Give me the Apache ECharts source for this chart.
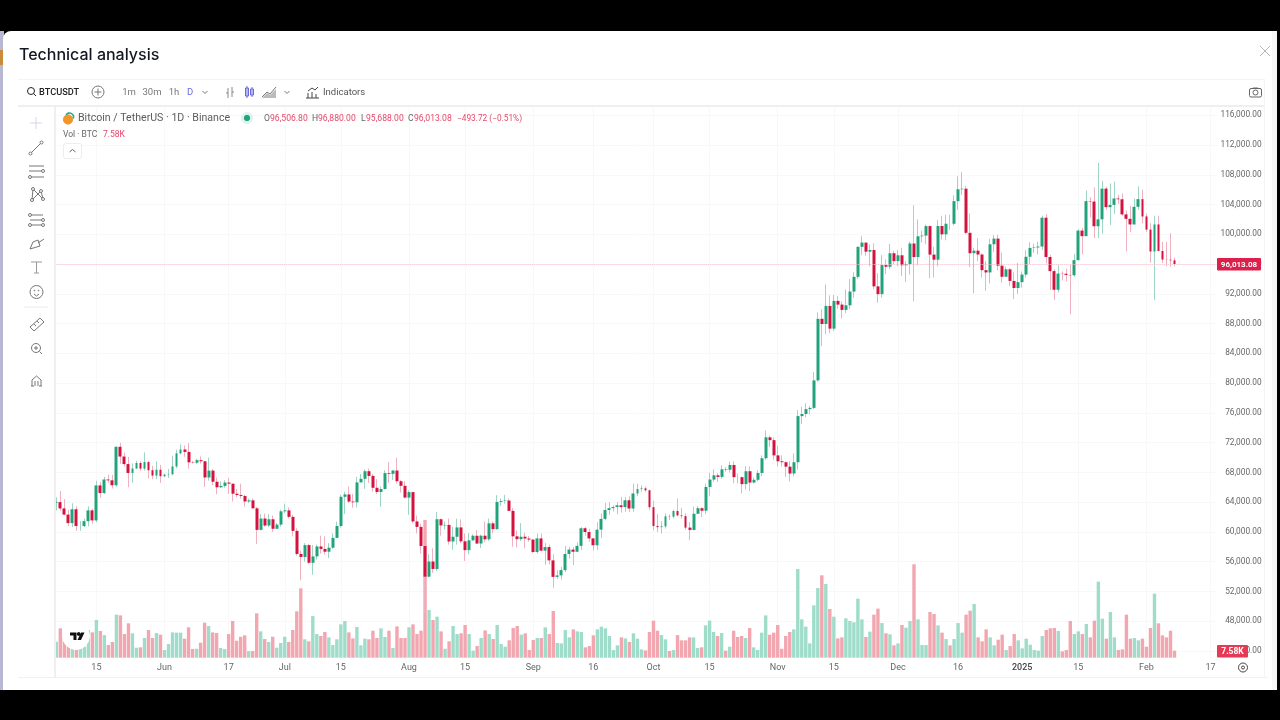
<!DOCTYPE html>
<html>
<head>
<meta charset="utf-8">
<title>Technical analysis</title>
<script src="https://cdn.jsdelivr.net/npm/echarts@6/dist/echarts.min.js"></script>
<style>
  html, body { margin: 0; padding: 0; background: #000; }
  #chart { width: 1280px; height: 720px; }
</style>
</head>
<body>
<div id="chart"></div>
<script>
// BTCUSDT daily, 2024-05-05 to 2025-02-08, one row per month
const opens = [
  63900,64012,63161,62334,61187,63049,60792,60793,61448,62901,61552,66256,65231,67051,66940,66278,71446,70136,69122,67929,68526,69265,68518,69394,68296,67578,68364,
  67491,67706,67751,68804,70567,71082,70757,69355,69310,69648,69500,67321,68243,66747,66006,66191,66639,66490,65140,64960,64828,64096,64245,63180,60277,61806,60864,61706,60427,60986,
  62772,62899,62029,60145,57042,56639,58231,55857,56714,58050,57718,57342,57889,59204,60797,64724,65043,64087,63987,66660,67139,68165,67532,65936,65372,65777,67912,67813,68255,66819,66201,
  64619,65357,61415,60680,58116,53991,56030,55027,61710,60880,60945,58719,59354,60609,58739,57560,58874,59491,58443,59493,59012,61156,60381,64037,64157,64220,62834,59415,59034,59359,59119,
  58973,57301,59132,57487,57970,56180,53962,54160,54869,57042,57631,57339,58132,60498,59993,59132,58213,60309,61759,62947,63201,63348,63578,63339,64262,63152,65173,65769,65858,65603,
  63327,60805,60649,60752,62086,62058,62819,62224,62131,60582,60274,62445,63193,62851,66046,67042,67612,67399,68418,68362,69001,67367,67361,66432,68161,66642,67014,67929,69907,72720,72339,
  70292,69496,69374,68775,67850,69372,75571,75857,76510,76677,80370,88647,87952,90375,87325,91056,90558,89845,90464,92310,94286,98317,98892,97672,97900,93010,91965,95863,95643,97460,
  96407,97185,95840,96000,98768,96945,99740,99831,101109,97276,96593,101125,100000,101424,101420,104463,106058,106133,100204,97461,97805,97291,95186,94881,98663,99429,95791,94299,95300,93738,92792,
  93576,94591,96985,98174,98236,98364,102235,96954,95060,92552,94726,94700,94546,94500,96534,100504,99756,104462,104408,101089,102016,106146,103653,103960,104820,104714,102682,102087,101332,103703,104735,
  102405,100635,97700,101328,97763,96615,96593,96506.8
]
const closes = [
  64012,63161,62334,61187,63049,60792,60793,61448,62901,61552,66256,65231,67051,66940,66278,71446,70136,69122,67929,68526,69265,68518,69394,68296,67578,68364,67491,
  67706,67751,68804,70567,71082,70757,69355,69310,69648,69500,67321,68243,66747,66006,66191,66639,66490,65140,64960,64828,64096,64245,63180,60277,61806,60864,61706,60427,60986,62772,
  62899,62029,60145,57042,56639,58231,55857,56714,58050,57718,57342,57889,59204,60797,64724,65043,64087,63987,66660,67139,68165,67532,65936,65372,65777,67912,67813,68255,66819,66201,64619,
  65357,61415,60680,58116,53991,56030,55027,61710,60880,60945,58719,59354,60609,58739,57560,58874,59491,58443,59493,59012,61156,60381,64037,64157,64220,62834,59415,59034,59359,59119,58973,
  57301,59132,57487,57970,56180,53962,54160,54869,57042,57631,57339,58132,60498,59993,59132,58213,60309,61759,62947,63201,63348,63578,63339,64262,63152,65173,65769,65858,65603,63327,
  60805,60649,60752,62086,62058,62819,62224,62131,60582,60274,62445,63193,62851,66046,67042,67612,67399,68418,68362,69001,67367,67361,66432,68161,66642,67014,67929,69907,72720,72339,70292,
  69496,69374,68775,67850,69372,75571,75857,76510,76677,80370,88647,87952,90375,87325,91056,90558,89845,90464,92310,94286,98317,98892,97672,97900,93010,91965,95863,95643,97460,96407,
  97185,95840,96000,98768,96945,99740,99831,101109,97276,96593,101125,100000,101424,101420,104463,106058,106133,100204,97461,97805,97291,95186,94881,98663,99429,95791,94299,95300,93738,92792,93576,
  94591,96985,98174,98236,98364,102235,96954,95060,92552,94726,94700,94546,94500,96534,100504,99756,104462,104408,101089,102016,106146,103653,103960,104820,104714,102682,102087,101332,103703,104735,102405,
  100635,97700,101328,97763,96615,96593,96506.8,96013.08
]
const highs = [
  64650,65500,64400,63000,63850,63470,61450,61800,63450,63100,66880,66700,67400,67700,67690,71515,71980,70650,70080,69220,69560,69500,70700,69560,68900,69500,69020,
  67850,68450,70250,71050,71760,71630,71950,69560,69850,70150,69560,70000,68450,67300,66800,66950,67300,65700,65730,66480,65000,64500,64500,63350,62400,62480,62370,62200,61200,63000,
  63800,63300,62300,60500,57500,58500,58400,58240,58300,59500,59400,58500,59800,61400,65000,65400,66100,65100,67400,67800,68400,68500,67800,67100,66100,68300,69400,68300,70000,67000,66800,
  65600,65000,62200,61100,58300,57000,57800,62700,61800,61400,61800,60700,61800,61700,59800,59850,59700,60250,59650,61400,61800,61400,64950,64500,65000,64500,63200,60200,61200,59900,59450,
  59050,59800,59800,58500,58300,57000,54850,55300,58100,58000,58000,58600,60650,60650,60400,59200,61300,62500,63900,64000,63550,64000,64700,64700,64800,66500,66500,66250,66100,65700,
  64200,62400,61450,62500,62370,63000,64500,63250,62500,61300,63400,63500,63300,66500,67950,68400,67900,68950,68700,69450,69500,67850,67450,68850,68800,67300,68300,70300,73620,72950,72700,
  71600,70300,69500,69500,70550,76400,76850,77300,76900,81500,89500,89950,93250,91800,91850,91700,91000,92600,94000,94900,98400,99800,98700,98650,98800,94800,97200,96650,98700,97800,
  97900,98200,96400,99000,103900,102000,100500,101300,101200,98300,101900,102500,102650,102650,105250,107800,108350,106500,102800,98200,99500,97400,96400,99400,99900,99950,97550,95650,95450,94900,96150,
  95000,97850,98950,98750,99000,102500,102700,97250,95350,95850,95000,95400,95900,97350,100700,100870,105900,104990,106300,109590,107200,106400,106850,107100,105300,105500,103200,103800,104800,106450,106000,
  102800,101500,102500,102500,99000,99000,100150,96880
]
const lows = [
  62900,62800,62250,60800,60650,60150,60150,60630,60750,61100,61300,64600,65100,66600,65850,66060,69160,68800,66000,66600,68500,68200,68250,67200,67100,67100,66600,
  67380,67250,67600,68550,70400,70100,68500,69200,69100,69200,66050,66900,66300,65050,65900,65950,65100,64100,64650,64500,63400,63900,63150,58400,60200,60700,60650,60000,60400,60700,
  62500,61800,59400,56800,53500,56000,55700,54260,56300,57100,56950,56500,57700,59200,60600,62400,63900,63250,63300,66700,65800,66600,65450,65100,63400,65700,66600,67000,66500,65300,64500,
  62300,61200,59800,57100,49000,53900,54500,54750,59500,60300,58300,57600,58300,58500,56100,57000,58800,58400,57850,58600,58800,59800,60300,63500,63800,62800,58000,57900,58800,57800,58700,
  57200,57100,57400,55600,55650,52500,53700,53600,54600,56400,55550,57300,57600,59500,58700,57500,57600,59200,61600,62300,62750,62400,62600,62700,62700,62700,64800,65400,65400,62900,
  60200,60000,59800,60450,61600,61850,62100,61800,60300,58900,60200,62400,62000,62400,64800,66750,66700,67150,68100,68000,66550,66550,65200,65700,65500,66500,66800,67500,69700,71400,69700,
  68800,68800,67400,66800,67450,68400,74500,75400,75800,76500,80200,85000,86600,86700,87000,90000,88700,89400,89950,91500,94000,97200,97100,95700,92600,90800,91500,94650,95300,96000,
  95700,94400,93600,94600,91000,95900,98900,98700,94100,94200,95700,99300,99200,100600,101200,103300,105300,100000,95600,92100,96400,94200,92400,93400,97600,95150,93500,94400,93050,91300,92000,
  92850,94200,96000,97500,97300,97900,96100,92500,91200,92200,93800,93700,89250,94300,96500,97300,99950,102300,99500,99500,100100,103300,101250,102750,104100,102500,97700,100300,101300,103300,101500,
  100300,96200,91200,97750,96150,95700,95650,95688
]
// volume in thousands of BTC
const volumes = [
  17.3,31.8,23.5,17.3,13.7,11.2,11.9,11.9,30.0,27.4,40.8,28.9,24.5,13.7,17.0,46.6,45.8,25.6,37.2,26.4,10.8,11.2,21.3,30.0,21.3,26.7,24.9,
  8.3,14.8,27.4,27.1,27.1,20.6,32.9,9.4,9.7,16.2,37.9,34.3,27.4,26.7,10.5,9.4,25.6,39.7,18.4,22.7,24.2,7.2,7.2,48.0,28.5,20.2,17.0,22.7,10.8,15.9,
  22.7,17.0,30.0,50.2,75.1,19.9,17.7,45.1,25.6,23.5,27.8,22.0,13.7,19.9,36.1,39.7,27.4,20.9,33.2,13.4,20.6,19.9,29.2,21.3,31.8,22.4,29.2,10.5,33.9,21.3,21.3,
  32.9,36.1,25.6,29.2,149.1,51.6,40.8,44.4,28.5,9.7,17.7,34.3,25.6,26.4,35.4,25.6,7.6,12.6,21.3,29.6,25.6,20.2,35.4,14.8,11.9,18.8,32.1,34.3,24.9,26.4,8.3,19.1,
  21.3,21.3,32.9,25.6,50.5,15.9,15.5,30.0,22.0,30.7,28.5,27.8,11.2,12.6,24.2,30.7,33.6,31.8,23.5,8.3,13.4,22.0,20.9,17.0,26.4,20.6,9.0,7.9,27.8,40.1,
  29.2,24.5,19.9,7.2,8.3,24.5,18.8,18.8,22.0,22.0,10.5,11.2,35.0,40.1,27.8,23.5,26.7,7.6,11.9,29.2,22.4,23.5,21.3,32.1,11.2,8.3,27.1,45.8,24.9,27.1,35.4,
  9.7,23.5,27.8,30.7,96.0,41.5,33.6,15.5,56.7,75.4,89.2,79.8,52.7,44.4,20.9,22.0,42.6,39.7,38.3,63.9,41.5,22.4,28.2,46.6,53.1,37.5,26.4,25.3,13.4,
  15.5,35.4,32.5,39.7,101.1,41.5,13.7,13.7,49.5,47.3,35.0,27.1,20.2,13.4,20.2,37.5,27.1,46.6,50.9,58.1,22.0,17.7,30.7,22.0,13.4,19.5,24.9,8.3,12.6,25.6,18.8,
  10.1,20.6,14.1,8.3,7.6,23.5,30.0,31.8,32.1,28.9,6.9,8.3,39.7,25.6,28.5,25.6,36.5,22.0,40.1,82.3,42.2,20.6,49.5,22.0,8.3,9.0,46.6,20.6,21.3,18.8,
  20.6,11.9,32.1,69.3,37.2,24.2,22.0,29.2,7.58
]
const lastPrice = 96013.08
const startDay = '2024-05-05'
const dayCount = 290 // the axis runs on past the last candle
const tickDates = ['2024-05-15','2024-06-01','2024-06-17','2024-07-01','2024-07-15','2024-08-01','2024-08-15','2024-09-01','2024-09-16','2024-10-01','2024-10-15','2024-11-01','2024-11-15','2024-12-01','2024-12-16','2025-01-01','2025-01-15','2025-02-01','2025-02-17']
const tickLabels = ['15','Jun','17','Jul','15','Aug','15','Sep','16','Oct','15','Nov','15','Dec','16','2025','15','Feb','17']

const categories = []
for (let i = 0; i < dayCount; i++) {
  categories.push(new Date(Date.parse(startDay) + i * 86400000).toISOString().slice(0, 10))
}

const UP = '#22a27a'
const DOWN = '#d3123f'
const UP_WICK = '#9ed6c3'
const DOWN_WICK = '#efb0c0'
const UP_VOL = '#9fdcc9'
const DOWN_VOL = '#f2a6b0'
const GRID = '#f8f8f8'
const ICON = '#777'
const FONT = 'Roboto, sans-serif'

const isUp = i => closes[i] >= opens[i]
const wickData = closes.map((c, i) => [opens[i], c, lows[i], highs[i]])
const bodyData = closes.map((c, i) => [opens[i], c, Math.min(opens[i], c), Math.max(opens[i], c)])

// little helpers for the page furniture around the chart
const Z = 100
const rect = (x, y, w, h, fill, extra) => ({ type: 'rect', z: Z, shape: { x, y, width: w, height: h, r: extra && extra.r || 0 }, style: { fill, stroke: extra && extra.stroke, lineWidth: 1 }, silent: true })
const line = (x1, y1, x2, y2, color = ICON, w = 1) => ({ type: 'line', z: Z + 1, shape: { x1, y1, x2, y2 }, style: { stroke: color, lineWidth: w }, silent: true })
const poly = (points, color = ICON, w = 1) => ({ type: 'polyline', z: Z + 1, shape: { points }, style: { stroke: color, lineWidth: w, fill: 'none' }, silent: true })
const circle = (cx, cy, r, stroke = ICON, fill = '#fff', w = 1) => ({ type: 'circle', z: Z + 1, shape: { cx, cy, r }, style: { stroke, fill, lineWidth: w }, silent: true })
const shape = (points, fill) => ({ type: 'polygon', z: Z + 2, shape: { points }, style: { fill }, silent: true })
const text = (x, y, t, color = '#555', size = 10, weight = 'normal', align = 'left', family = FONT) => ({
  type: 'text', z: Z + 2, x, y, silent: true,
  style: { text: t, fill: color, font: `${weight} ${size}px ${family}`, textAlign: align, textVerticalAlign: 'middle' }
})

const backdrop = [
  // modal, drawn behind the chart
  { type: 'rect', z: -10, shape: { x: 3, y: 31, width: 1274, height: 659, r: [8, 0, 0, 0] }, style: { fill: '#fff' }, silent: true },
  { type: 'rect', z: -11, shape: { x: 0, y: 31, width: 4, height: 659 }, style: { fill: '#b9b8d2' }, silent: true },
  { type: 'rect', z: -11, shape: { x: 0, y: 50, width: 3, height: 15 }, style: { fill: '#c98a3c' }, silent: true },
  { type: 'rect', z: -9, shape: { x: 1272, y: 31, width: 5, height: 659 }, style: { fill: '#f7f7f7' }, silent: true }
]

const furniture = [
  rect(18, 107, 38, 571, '#fff'),
  rect(54, 107, 2, 571, '#efefef'),
  rect(18, 105, 1246, 2, '#efefef'),
  rect(18, 79, 1246, 1, '#f4f4f4'),
  rect(18, 677, 1250, 1, '#f1f1f1'),
  rect(1264, 79, 1, 599, '#f4f4f4'),
  text(19, 55.5, 'Technical analysis', '#131722', 16, '500', 'left', 'Inter, sans-serif'),
  poly([[1260, 46], [1270, 56]], '#b5b5b5'), poly([[1270, 46], [1260, 56]], '#b5b5b5'),

  // top toolbar
  circle(31, 91, 3.5, '#222'), line(33.5, 93.5, 36, 96, '#222'),
  text(39, 92.5, 'BTCUSDT', '#222', 9.2, '500'),
  circle(98, 92, 6), line(94.5, 92, 101.5, 92), line(98, 88.5, 98, 95.5),
  text(129, 92.5, '1m', '#777', 9.5, 'normal', 'center'),
  text(152, 92.5, '30m', '#777', 9.5, 'normal', 'center'),
  text(174, 92.5, '1h', '#777', 9.5, 'normal', 'center'),
  text(190, 92.5, 'D', '#6a6ae0', 9.5, 'normal', 'center'),
  poly([[202.5, 91], [205, 93.5], [207.5, 91]], '#777'),
  poly([[226, 93], [228, 93]], '#888'), line(228, 88, 228, 98, '#888'), line(232, 87, 232, 97, '#888'), poly([[232, 92], [234, 92]], '#888'),
  rect(245.5, 88, 3, 8, '#fff', { stroke: '#6a6ae0' }), line(247, 86, 247, 98, '#6a6ae0'),
  rect(250.5, 89, 3, 6, '#fff', { stroke: '#6a6ae0' }), line(252, 87, 252, 97, '#6a6ae0'),
  poly([[262, 97], [267, 92], [270, 94], [276, 87]], '#777'), shape([[262, 98], [267, 93], [270, 95], [276, 89], [276, 98]], '#bbb'),
  poly([[284.5, 91], [287, 93.5], [289.5, 91]], '#777'),
  poly([[308, 91], [312, 88], [315, 90], [318, 87]], '#444'), line(308, 98, 308, 93, '#444'), line(312, 98, 312, 92, '#444'), line(316, 98, 316, 94, '#444'), line(306, 98, 319, 98, '#444'),
  text(323, 92.5, 'Indicators', '#555', 9.5),
  rect(1249.5, 88.5, 12, 8.5, '#fff', { stroke: '#666', r: 1.5 }), circle(1255.5, 92.5, 2.5, '#666'), line(1253, 88, 1258, 88, '#666'),

  // left drawing tools
  line(36, 117, 36, 129, '#d5d5ec'), line(30, 123, 42, 123, '#d5d5ec'),
  line(31, 153, 41, 143), circle(30.5, 153.5, 1.5), circle(41.5, 142.5, 1.5),
  line(29, 166, 44, 166), line(29, 171, 42, 171), line(31, 177, 44, 177), circle(43, 171, 1.5), circle(30, 177, 1.5),
  poly([[33, 189], [32, 200], [41, 191], [43, 199], [33, 189]]), circle(33, 189, 1.5), circle(32, 200, 1.5), circle(41, 191, 1.5), circle(43, 199, 1.5),
  line(30, 215, 43, 215), line(30, 220, 43, 220), line(30, 225, 43, 225), circle(30, 215, 1.5), circle(43, 220, 1.5), circle(30, 225, 1.5), circle(43, 225, 1.5),
  poly([[30, 249], [33, 242], [38, 240], [40, 246], [30, 249]]), line(38, 243, 44, 239),
  line(31, 262, 42, 262, '#999'), line(36.5, 262, 36.5, 273, '#999'), line(34, 273, 39, 273, '#999'),
  circle(36.5, 292, 6.5), circle(34.5, 290.5, 0.4), circle(38.5, 290.5, 0.4), poly([[34, 294], [36.5, 296], [39, 294]]),
  line(24, 307, 48, 307, '#ececec'),
  poly([[30, 327], [40, 318], [44, 322], [34, 331], [30, 327]]), line(34, 324, 36, 326), line(37, 321, 39, 323),
  circle(36, 348, 4.5), line(39.5, 351.5, 42, 354), line(34, 348, 38, 348), line(36, 346, 36, 350),
  poly([[32, 386], [32, 380], [36.5, 376], [41, 380], [41, 386]]), line(35, 386, 35, 381), line(38, 386, 38, 381), line(31, 386, 34, 386), line(39, 386, 42, 386),

  // legend
  circle(68, 119.5, 4.6, '#f0962a', '#f0962a'),
  { type: 'arc', z: Z + 1, shape: { cx: 69.5, cy: 117, r: 4, startAngle: -2.6, endAngle: 0.4 }, style: { stroke: '#2aa789', lineWidth: 1.6, fill: 'none' }, silent: true },
  text(78, 118.5, 'Bitcoin / TetherUS · 1D · Binance', '#5c5c5c', 10.6),
  circle(247, 118, 5.5, '#dff3ec', '#dff3ec'), circle(247, 118, 2.7, '#1fa67f', '#1fa67f'),
  text(264, 118.5, 'O', '#666', 8.6), text(270, 118.5, '96,506.80', '#e2496e', 8.6),
  text(312, 118.5, 'H', '#666', 8.6), text(318, 118.5, '96,880.00', '#e2496e', 8.6),
  text(361, 118.5, 'L', '#666', 8.6), text(366, 118.5, '95,688.00', '#e2496e', 8.6),
  text(408, 118.5, 'C', '#666', 8.6), text(414, 118.5, '96,013.08', '#e2496e', 8.6),
  text(457, 118.5, '−493.72 (−0.51%)', '#e2496e', 8.3),
  text(63, 134.5, 'Vol · BTC', '#666', 8.5),
  text(103, 134.5, '7.58K', '#e2496e', 8.5),
  rect(63.5, 143.5, 18, 15, '#fff', { stroke: '#ededed', r: 2 }), poly([[69.5, 152], [72.5, 149.5], [75.5, 152]], '#666'),

  // TV logo
  circle(76, 636, 13.5, '#fff', '#fff'),
  shape([[70, 632.5], [76.5, 632.5], [76.5, 640], [73.5, 640], [73.5, 635.5], [70, 635.5]], '#111'),
  circle(78.7, 634, 1.5, '#111', '#111'),
  shape([[81, 632.5], [84.5, 632.5], [81, 640], [77.5, 640]], '#111'),

  // last price tags over the axis
  rect(1217, 258, 44, 12.5, '#dd1f4b', { r: 1 }),
  text(1239, 264.5, '96,013.08', '#fff', 8, 'bold', 'center'),
  rect(1217, 645, 31, 12.5, '#e43a55', { r: 1 }),
  text(1232.5, 651.5, '7.58K', '#fff', 8.5, 'bold', 'center'),

  // settings icon
  circle(1243, 667.5, 4.5, '#444'), circle(1243, 667.5, 1.5, '#444')
]

const chart = echarts.init(document.getElementById('chart'))
chart.setOption({
  animation: false,
  backgroundColor: '#000',
  textStyle: { fontFamily: FONT },
  graphic: { elements: backdrop.concat(furniture) },
  grid: [
    { left: 54.3, top: 115.3, width: 1162.3, height: 535.7 },
    { left: 54.3, top: 107, width: 1162.3, height: 550.7 }
  ],
  xAxis: [
    {
      type: 'category', gridIndex: 0, data: categories, show: false
    },
    {
      type: 'category', gridIndex: 1, data: categories,
      axisLine: { show: false },
      axisTick: { show: false },
      axisLabel: {
        color: '#666', fontSize: 9, margin: 6,
        interval: (i, v) => tickDates.includes(v),
        formatter: v => {
          const label = tickLabels[tickDates.indexOf(v)]
          return label === '2025' ? '{b|2025}' : label
        },
        rich: { b: { fontWeight: 500, fontSize: 9, color: '#444' } }
      },
      splitLine: {
        show: true, alignWithLabel: true,
        interval: (i, v) => tickDates.includes(v),
        lineStyle: { color: GRID }
      }
    }
  ],
  yAxis: [
    {
      type: 'value', gridIndex: 0, position: 'right', scale: true,
      min: 44000, max: 116000, interval: 4000,
      axisLine: { show: false },
      axisTick: { show: false },
      axisLabel: {
        color: '#666', fontSize: 8.3, align: 'right', margin: 45, padding: [0, 0, 2, 0],
        formatter: v => v.toLocaleString('en-US', { minimumFractionDigits: 2 })
      },
      splitLine: { lineStyle: { color: GRID } }
    },
    {
      type: 'value', gridIndex: 1, min: 0, max: 596, show: false, splitLine: { show: false }
    }
  ],
  series: [
    {
      name: 'Volume', type: 'bar', xAxisIndex: 1, yAxisIndex: 1, barWidth: 3.4,
      data: volumes,
      z: 1,
      itemStyle: { color: p => (isUp(p.dataIndex) ? UP_VOL : DOWN_VOL) }
    },
    {
      name: 'Wicks', type: 'candlestick', xAxisIndex: 0, yAxisIndex: 0, barWidth: 1,
      data: wickData,
      z: 2,
      itemStyle: { color: UP_WICK, color0: DOWN_WICK, borderColor: UP_WICK, borderColor0: DOWN_WICK, borderWidth: 1 },
      markLine: {
        silent: true, symbol: 'none', label: { show: false },
        lineStyle: { color: '#f5c3cd', type: 'dotted', width: 1 },
        data: [{ yAxis: lastPrice }]
      }
    },
    {
      name: 'BTCUSDT', type: 'candlestick', xAxisIndex: 0, yAxisIndex: 0, barWidth: 3.4,
      data: bodyData,
      z: 3,
      itemStyle: { color: UP, color0: DOWN, borderColor: UP, borderColor0: DOWN, borderWidth: 0 }
    }
  ]
})
</script>
</body>
</html>
